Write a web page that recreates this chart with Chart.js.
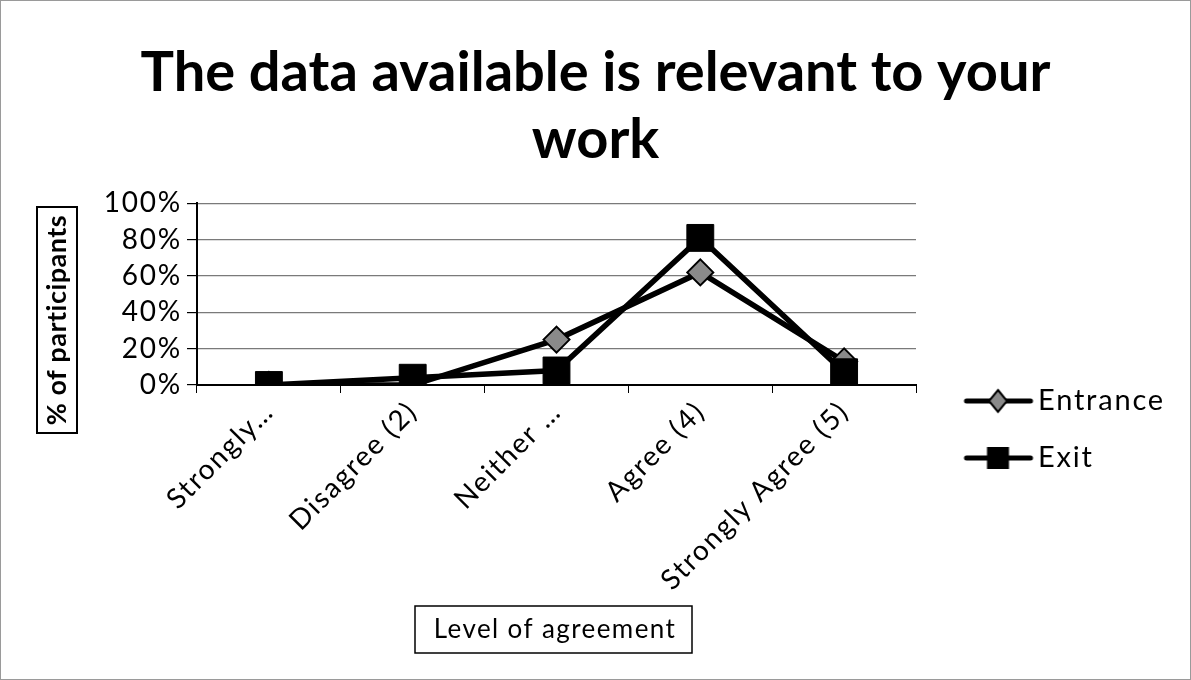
<!DOCTYPE html>
<html>
<head>
<meta charset="utf-8">
<script src="https://cdn.jsdelivr.net/npm/chart.js@4.4.1/dist/chart.umd.min.js"></script>
<style>
  html, body { margin: 0; padding: 0; background: #fff; }
  #wrap { width: 1191px; height: 680px; position: relative; }
</style>
</head>
<body>
<div id="wrap"><canvas id="c" width="1191" height="680"></canvas></div>
<script>
const categories = ['Strongly\u2026', 'Disagree (2)', 'Neither \u2026', 'Agree (4)', 'Strongly Agree (5)'];
const entranceValues = [0, 0, 25, 62, 13];
const exitValues = [0, 4, 8, 81, 7];
const yTicks = [0, 20, 40, 60, 80, 100];
const titleLines = ['The data available is relevant to your', 'work'];
const yTitle = '% of participants';
const xTitle = 'Level of agreement';

const FONT = 'Lato, "Open Sans", sans-serif';
const SPACING = '1.8px';

function legendIcon(kind) {
  const c = document.createElement('canvas');
  c.width = 90; c.height = 32;
  const g = c.getContext('2d');
  g.strokeStyle = '#000'; g.lineWidth = 5; g.lineCap = 'round';
  g.beginPath(); g.moveTo(21, 16); g.lineTo(85, 16); g.stroke();
  const cx = 52.5;
  if (kind === 'diamond') {
    g.fillStyle = '#8a8a8a'; g.lineWidth = 2;
    g.beginPath(); g.moveTo(cx, 5); g.lineTo(cx + 9, 16); g.lineTo(cx, 27); g.lineTo(cx - 9, 16); g.closePath();
    g.fill(); g.stroke();
  } else {
    g.fillStyle = '#000';
    g.fillRect(cx - 11, 5, 22, 22);
  }
  return c;
}

function setSpacing(ctx, v) { if ('letterSpacing' in ctx) ctx.letterSpacing = v; }

const decor = {
  id: 'decor',
  afterInit(chart) {
    const ctx = chart.ctx;
    const lg = chart.legend;
    if (lg) {
      const fit = lg.fit.bind(lg);
      lg.fit = function () { fit(); this.width = 1191 - 916; };
    }
    const tb = chart.titleBlock;
    if (tb) {
      const d = tb.draw.bind(tb);
      tb.draw = function (a) { const p = ctx.letterSpacing; setSpacing(ctx, '0px'); d(a); setSpacing(ctx, p); };
    }
  },
  beforeUpdate(chart) { setSpacing(chart.ctx, SPACING); },
  afterLayout(chart) {
    const lg = chart.legend;
    if (lg) {
      lg.left += 13.5; lg.right += 13.5;
      lg.top += 89.5; lg.bottom += 89.5;
    }
  },
  beforeDraw(chart) {
    const ctx = chart.ctx;
    setSpacing(ctx, SPACING);
    ctx.save();
    ctx.fillStyle = '#fff';
    ctx.fillRect(0, 0, chart.width, chart.height);
    ctx.restore();
  },
  afterDraw(chart) {
    const ctx = chart.ctx;
    ctx.save();
    ctx.strokeStyle = '#9a9a9a'; ctx.lineWidth = 1;
    ctx.strokeRect(0.5, 0.5, chart.width - 1, chart.height - 1);
    // y axis title
    ctx.fillStyle = '#000';
    setSpacing(ctx, '0.5px');
    ctx.font = 'bold 27px ' + FONT;
    ctx.textAlign = 'center'; ctx.textBaseline = 'middle';
    ctx.save();
    ctx.translate(57, 320);
    ctx.rotate(-Math.PI / 2);
    ctx.fillText(yTitle, 0, 0);
    ctx.restore();
    ctx.strokeStyle = '#000'; ctx.lineWidth = 2;
    ctx.strokeRect(37, 207, 40, 226);
    // x axis title
    ctx.font = '26px ' + FONT;
    setSpacing(ctx, '1.4px');
    ctx.fillText(xTitle, 555, 630);
    ctx.lineWidth = 1.5;
    ctx.strokeRect(415, 606, 277, 47);
    ctx.restore();
    setSpacing(ctx, SPACING);
  }
};

const iconDiamond = legendIcon('diamond');
const iconSquare = legendIcon('square');

new Chart(document.getElementById('c'), {
  type: 'line',
  data: {
    labels: categories,
    datasets: [
      {
        label: 'Entrance', data: entranceValues, order: 1,
        borderColor: '#000', borderWidth: 5.5, backgroundColor: '#8a8a8a',
        pointStyle: 'rectRot', pointRadius: 13, pointBorderColor: '#000', pointBorderWidth: 2,
        pointBackgroundColor: '#8a8a8a', tension: 0
      },
      {
        label: 'Exit', data: exitValues, order: 0,
        borderColor: '#000', borderWidth: 5.5, backgroundColor: '#000',
        pointStyle: 'rect', pointRadius: 19, pointBorderColor: '#000', pointBorderWidth: 1,
        pointBackgroundColor: '#000', tension: 0
      }
    ]
  },
  options: {
    responsive: false,
    animation: false,
    layout: { padding: { left: 0, right: 0, top: 0, bottom: 0 } },
    plugins: {
      tooltip: { enabled: false },
      title: {
        display: true, text: titleLines, color: '#000',
        font: { family: FONT, size: 56, weight: 'bold', lineHeight: 1.2 },
        padding: { top: 39, bottom: 30 }
      },
      legend: {
        position: 'right',
        align: 'center',
        labels: {
          color: '#000',
          font: { family: FONT, size: 29 },
          usePointStyle: true,
          pointStyleWidth: 66,
          boxHeight: 30,
          padding: 28,
          sort: (a, b) => a.datasetIndex - b.datasetIndex,
          generateLabels(chart) {
            return chart.data.datasets.map((ds, i) => ({
              text: ds.label, datasetIndex: i,
              pointStyle: i === 0 ? iconDiamond : iconSquare,
              fillStyle: '#000', strokeStyle: '#000', lineWidth: 0, fontColor: '#000', hidden: false
            }));
          }
        }
      }
    },
    scales: {
      x: {
        offset: true,
        grid: { display: true, drawOnChartArea: false, offset: true, tickLength: 8, color: '#000', tickColor: '#000' },
        border: { display: true, color: '#000', width: 2 },
        ticks: {
          autoSkip: false, minRotation: 45, maxRotation: 45, color: '#000', padding: 2,
          font: { family: FONT, size: 28 }
        },
        afterFit(scale) { scale.height = 680 - 385; }
      },
      y: {
        min: 0, max: 100,
        afterBuildTicks(scale) { scale.ticks = yTicks.map(v => ({ value: v })); },
        grid: { color: '#7a7a7a', lineWidth: 1.2, tickLength: 10, tickColor: '#000' },
        border: { display: true, color: '#000', width: 2 },
        ticks: {
          autoSkip: false,
          color: '#000', padding: 5,
          font: { family: FONT, size: 28 },
          callback: (v) => v + '%'
        },
        afterFit(scale) { scale.width = 197; }
      }
    }
  },
  plugins: [decor]
});
</script>
</body>
</html>
